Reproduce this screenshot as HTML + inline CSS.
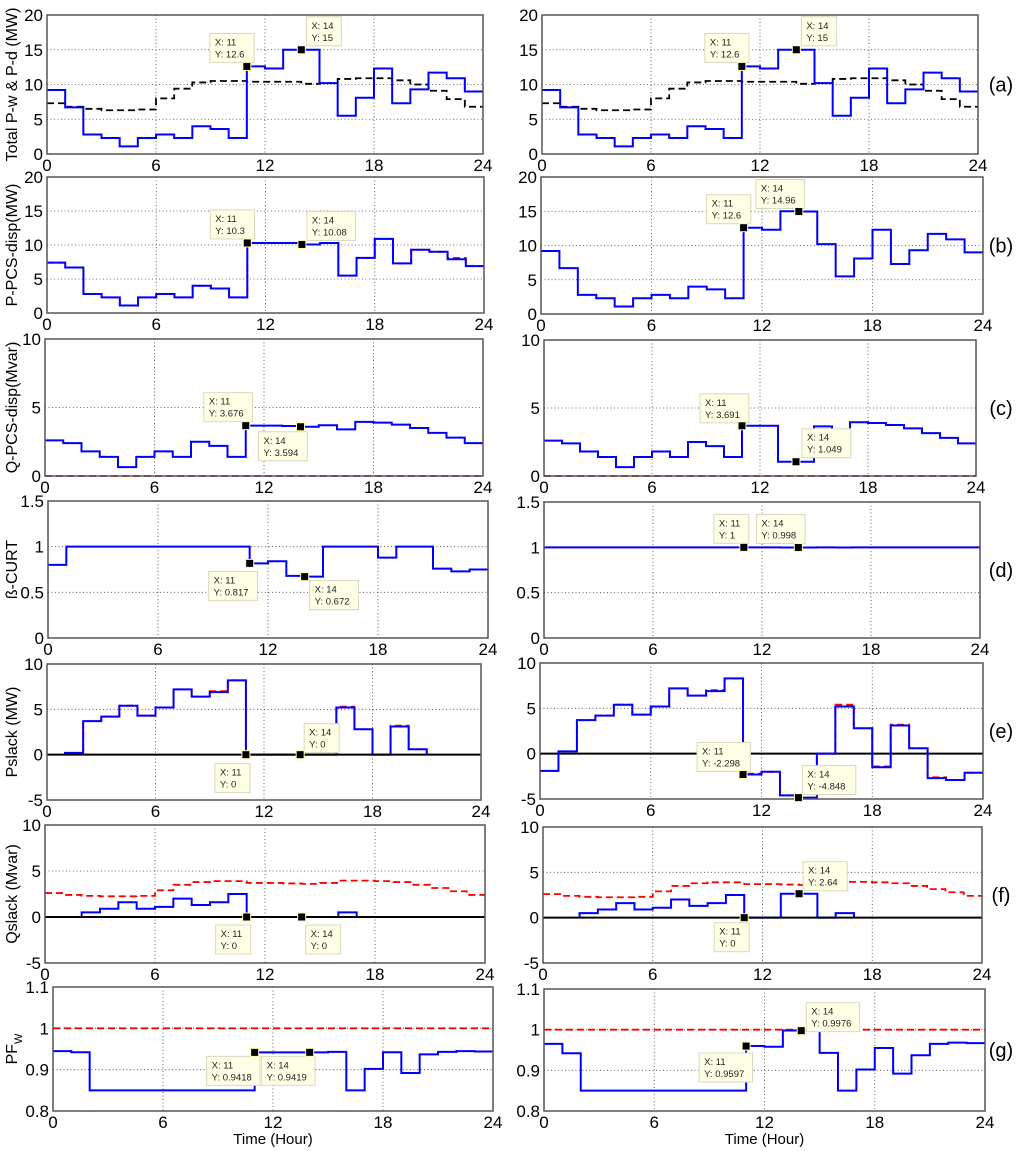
<!DOCTYPE html>
<html><head><meta charset="utf-8">
<style>
html,body{margin:0;padding:0;background:#fff;}
svg{display:block;font-family:"Liberation Sans",Arial,sans-serif;}
</style></head>
<body>
<svg id="fig" width="1024" height="1151" viewBox="0 0 1024 1151" xmlns="http://www.w3.org/2000/svg"></svg>
<script>
// ---------- data ----------
const hours = [0,6,12,18,24];
const pwTotal = [9.2,6.7,2.8,2.3,1.1,2.3,2.8,2.3,4.0,3.6,2.3,12.6,12.3,15,15,10.2,5.5,8.1,12.3,7.3,9.3,11.7,10.9,9.0];
const pdLoad  = [7.3,6.8,6.5,6.3,6.3,6.4,8.0,9.4,10.3,10.5,10.5,10.4,10.4,10.4,10.1,10.2,10.8,10.9,10.9,10.6,10.0,9.1,7.9,6.8];
const pPcsLeft  = [7.4,6.7,2.8,2.3,1.1,2.3,2.8,2.3,4.0,3.6,2.3,10.3,10.3,10.3,10.08,10.3,5.5,8.1,10.9,7.3,9.3,9.0,7.9,6.9];
const pPcsLeftRef = [7.4,6.7,2.8,2.3,1.1,2.3,2.8,2.3,4.0,3.6,2.3,10.3,10.3,10.3,10.08,10.3,5.5,8.1,10.9,7.3,9.3,9.0,8.1,6.9];
const pPcsRight = [9.2,6.7,2.8,2.3,1.1,2.3,2.8,2.3,4.0,3.6,2.3,12.6,12.3,15,14.96,10.2,5.5,8.1,12.3,7.3,9.3,11.7,10.9,9.0];
const qPcsLeft  = [2.6,2.4,1.8,1.4,0.65,1.4,1.8,1.4,2.5,2.2,1.4,3.676,3.676,3.65,3.594,3.7,3.4,3.95,3.9,3.75,3.5,3.15,2.8,2.4];
const qPcsRight = [2.6,2.4,1.8,1.4,0.65,1.4,1.8,1.4,2.5,2.2,1.4,3.691,3.691,1.05,1.049,3.65,3.4,3.95,3.9,3.75,3.5,3.15,2.8,2.4];
const zeroSeries = [0,0,0,0,0,0,0,0,0,0,0,0,0,0,0,0,0,0,0,0,0,0,0,0];
const betaLeft  = [0.8,1,1,1,1,1,1,1,1,1,1,0.817,0.84,0.68,0.672,1,1,1,0.88,1,1,0.76,0.73,0.75];
const betaRight = [1,1,1,1,1,1,1,1,1,1,1,1,1,0.998,0.998,1,0.998,1,1,1,1,1,1,1];
const pSlackLeft  = [0,0.2,3.7,4.2,5.4,4.3,5.2,7.2,6.4,6.9,8.2,0,0,0,0,0,5.2,2.8,0,3.1,0.6,0,0,0];
const pSlackLeftRef = [0,0.2,3.7,4.2,5.4,4.3,5.2,7.2,6.4,7.0,8.2,0,0,0,0,0,5.3,2.8,0,3.2,0.6,0,0,0];
const pSlackRight = [-1.9,0.25,3.7,4.2,5.4,4.3,5.2,7.2,6.4,6.9,8.3,-2.298,-2.0,-4.6,-4.848,0,5.2,2.8,-1.5,3.1,0.6,-2.7,-2.9,-2.1];
const pSlackRightRef = [-1.9,0.25,3.7,4.2,5.4,4.3,5.2,7.2,6.4,7.0,8.3,-2.2,-2.0,-4.6,-4.848,0,5.4,2.8,-1.4,3.2,0.6,-2.6,-2.9,-2.1];
const qSlackLeft  = [0,0,0.5,0.9,1.6,0.9,1.1,2.0,1.3,1.6,2.5,0,0,0,0,0,0.5,0,0,0,0,0,0,0];
const qSlackRight = [0,0,0.5,0.9,1.6,0.9,1.1,2.0,1.3,1.6,2.5,0,0,2.64,2.64,0,0.5,0,0,0,0,0,0,0];
const qLimit = [2.6,2.4,2.3,2.25,2.25,2.3,2.9,3.5,3.8,3.9,3.9,3.7,3.7,3.65,3.6,3.7,3.95,3.95,3.9,3.8,3.5,3.15,2.8,2.4];
const pfLeft  = [0.945,0.942,0.85,0.85,0.85,0.85,0.85,0.85,0.85,0.85,0.85,0.9418,0.9418,0.9418,0.9419,0.943,0.85,0.902,0.942,0.892,0.937,0.943,0.945,0.944];
const pfRight = [0.965,0.942,0.85,0.85,0.85,0.85,0.85,0.85,0.85,0.85,0.85,0.9597,0.958,0.998,0.9976,0.943,0.85,0.902,0.955,0.892,0.937,0.965,0.968,0.967];
const pfLimit = [1,1,1,1,1,1,1,1,1,1,1,1,1,1,1,1,1,1,1,1,1,1,1,1];
const tipsX = [11,14];
const ticksA = ["0","5","10","15","20"];
const ticksC = ["0","5","10"];
const ticksD = ["0","0.5","1","1.5"];
const ticksE = ["-5","0","5","10"];
const ticksG = ["0.8","0.9","1","1.1"];
const panelLetters = ["(a)","(b)","(c)","(d)","(e)","(f)","(g)"];

// ---------- layout ----------
const NS = "http://www.w3.org/2000/svg";
const fig = document.getElementById('fig');
function el(tag, attrs, parent){
  const e = document.createElementNS(NS, tag);
  for (const k in attrs) e.setAttribute(k, attrs[k]);
  (parent||fig).appendChild(e);
  return e;
}
function stairs(xs, ys, vals, from, to, closeZero){
  let d = '';
  for (let i=from;i<to;i++){
    const yy = ys(vals[i]);
    if (i===from) d += 'M'+xs(i)+' '+(closeZero?ys(0):yy)+(closeZero?' V'+yy:'');
    else d += ' V'+yy;
    d += ' H'+xs(i+1);
  }
  if (closeZero) d += ' V'+ys(0);
  return d;
}

const panels = [
 {id:'a-left', box:[47,15,483,154], ymin:0,ymax:20, ticks:ticksA, ylabel:'Total P-w & P-d (MW)'},
 {id:'b-left', box:[47,177,484,313], ymin:0,ymax:20, ticks:ticksA, ylabel:'P-PCS-disp(MW)'},
 {id:'c-left', box:[45,339,483,476], ymin:0,ymax:10, ticks:ticksC, ylabel:'Q-PCS-disp(Mvar)'},
 {id:'d-left', box:[48,501,488,638], ymin:0,ymax:1.5, ticks:ticksD, ylabel:'ß-CURT'},
 {id:'e-left', box:[47,664,481,800], ymin:-5,ymax:10, ticks:ticksE, ylabel:'Pslack (MW)'},
 {id:'f-left', box:[45,825,485,963], ymin:-5,ymax:10, ticks:ticksE, ylabel:'Qslack (Mvar)'},
 {id:'g-left', box:[53,987,493,1111], ymin:0.8,ymax:1.1, ticks:ticksG, ylabel:'PF', xlabel:true},
 {id:'a-right', box:[542,15,978,154], ymin:0,ymax:20, ticks:ticksA, letter:0},
 {id:'b-right', box:[541,177,983,314], ymin:0,ymax:20, ticks:ticksA, letter:1},
 {id:'c-right', box:[544,340,976,476], ymin:0,ymax:10, ticks:ticksC, letter:2},
 {id:'d-right', box:[544,502,980,638], ymin:0,ymax:1.5, ticks:ticksD, letter:3},
 {id:'e-right', box:[540,663,983,799], ymin:-5,ymax:10, ticks:ticksE, letter:4},
 {id:'f-right', box:[543,827,982,963], ymin:-5,ymax:10, ticks:ticksE, letter:5},
 {id:'g-right', box:[544,989,985,1111], ymin:0.8,ymax:1.1, ticks:ticksG, letter:6, xlabel:true},
];

const seriesMap = {
 'a-left':[[pdLoad,'#000',true,0,24,false],[pwTotal,'#0000ff',false,0,24,false]],
 'a-right':[[pdLoad,'#000',true,0,24,false],[pwTotal,'#0000ff',false,0,24,false]],
 'b-left':[[pPcsLeftRef,'#ff0000',true,0,24,false],[pPcsLeft,'#0000ff',false,0,24,false]],
 'b-right':[[pPcsRight,'#0000ff',false,0,24,false]],
 'c-left':[[qPcsLeft,'#0000ff',false,0,24,false],[zeroSeries,'#cc0000',true,0,24,false]],
 'c-right':[[qPcsRight,'#0000ff',false,0,24,false],[zeroSeries,'#cc0000',true,0,24,false]],
 'd-left':[[betaLeft,'#0000ff',false,0,24,false]],
 'd-right':[[betaRight,'#0000ff',false,0,24,false]],
 'e-left':[[pSlackLeftRef,'#ff0000',true,1,21,true],[pSlackLeft,'#0000ff',false,1,21,true],[zeroSeries,'#000',false,0,24,false]],
 'e-right':[[zeroSeries,'#000',false,0,24,false],[pSlackRightRef,'#ff0000',true,0,24,false],[pSlackRight,'#0000ff',false,0,24,false]],
 'f-left':[[qLimit,'#ff0000',true,0,24,false],[qSlackLeft,'#0000ff',false,2,17,true],[zeroSeries,'#000',false,0,24,false]],
 'f-right':[[qLimit,'#ff0000',true,0,24,false],[qSlackRight,'#0000ff',false,2,17,true],[zeroSeries,'#000',false,0,24,false]],
 'g-left':[[pfLimit,'#ff0000',true,0,24,false],[pfLeft,'#0000ff',false,0,24,false]],
 'g-right':[[pfLimit,'#ff0000',true,0,24,false],[pfRight,'#0000ff',false,0,24,false]],
};
const tipSrc = {'a-left':pwTotal,'a-right':pwTotal,'b-left':pPcsLeft,'b-right':pPcsRight,'c-left':qPcsLeft,'c-right':qPcsRight,
 'd-left':betaLeft,'d-right':betaRight,'e-left':pSlackLeft,'e-right':pSlackRight,'f-left':qSlackLeft,'f-right':qSlackRight,'g-left':pfLeft,'g-right':pfRight};
const tipLabels = {'a-left':['12.6','15'],'a-right':['12.6','15'],'b-left':['10.3','10.08'],'b-right':['12.6','14.96'],
 'c-left':['3.676','3.594'],'c-right':['3.691','1.049'],'d-left':['0.817','0.672'],'d-right':['1','0.998'],
 'e-left':['0','0'],'e-right':['-2.298','-4.848'],'f-left':['0','0'],'f-right':['0','2.64'],'g-left':['0.9418','0.9419'],'g-right':['0.9597','0.9976']};
const tipOff = {'a-left':[[-37,-33],[5,-33]],'a-right':[[-37,-33],[5,-33]],'b-left':[[-37,-33],[5,-33]],'b-right':[[-37,-33],[-43,-32]],
 'c-left':[[-42,-33],[-42,5]],'c-right':[[-42,-32],[6,-33]],'d-left':[[-41,8],[5,4]],'d-right':[[-30,-33],[-42,-33]],
 'e-left':[[-31,9],[4,-31]],'e-right':[[-46,-32],[4,-32]],'f-left':[[-31,8],[4,8]],'f-right':[[-30,5],[4,-32]],
 'g-left':[[-48,4],[-48,4]],'g-right':[[-47,7],[5,-28]]};

panels.forEach(p=>{
  const [x0,y0,x1,y1] = p.box;
  const g = el('g',{});
  
  
  const xs = h => x0 + (x1-x0)*h/24;
  const ys = v => y1 - (y1-y0)*(v-p.ymin)/(p.ymax-p.ymin);
  hours.forEach((h,i)=>{
    if (i>0 && i<hours.length-1){
      const gl = el('line',{x1:xs(h),x2:xs(h),y1:y0,y2:y1,stroke:'#444','stroke-width':0.8,'stroke-dasharray':'1,2.5'},g);
      
      
    }
    const t = el('text',{x:xs(h),y:y1+17,'font-size':17,'text-anchor':'middle',fill:'#000'},g);
    t.textContent = String(h);
    
    
  });
  p.ticks.forEach((lab,i)=>{
    const v = parseFloat(lab);
    if (i>0 && i<p.ticks.length-1){
      const gl = el('line',{x1:x0,x2:x1,y1:ys(v),y2:ys(v),stroke:'#444','stroke-width':0.8,'stroke-dasharray':'1,2.5'},g);
      
      
    }
    const t = el('text',{x:x0-4,y:ys(v)+6,'font-size':17,'text-anchor':'end',fill:'#000'},g);
    t.textContent = lab;
    
    
  });
  (seriesMap[p.id]||[]).forEach(s=>{
    const [vals,color,dashed,from,to,cz] = s;
    const path = el('path',{d:stairs(xs,ys,vals,from,to,cz),fill:'none',stroke:color,'stroke-width':dashed?1.8:2,
      'stroke-dasharray':dashed?'7,4':'none'},g);
    
    
  });
  const fr = el('rect',{x:x0,y:y0,width:x1-x0,height:y1-y0,fill:'none',stroke:'#555','stroke-width':1.5},g);
  
  
  tipsX.forEach((hx,k)=>{
    const vy = tipSrc[p.id][hx];
    const mx = xs(hx), my = ys(vy);
    const [dx,dy] = tipOff[p.id][k];
    const yLab = 'Y: '+tipLabels[p.id][k];
    const w = 12 + Math.max(5,yLab.length)*4.6, h = 29;
    const tg = el('g',{},g);
    
    
    el('rect',{x:mx+dx,y:my+dy,width:w,height:h,fill:'#ffffe6',stroke:'#d8d8c0','stroke-width':1},tg);
    const t1 = el('text',{x:mx+dx+5,y:my+dy+12,'font-size':9.5,fill:'#222'},tg);
    t1.textContent = 'X: '+hx;
    const t2 = el('text',{x:mx+dx+5,y:my+dy+24,'font-size':9.5,fill:'#222'},tg);
    t2.textContent = yLab;
    el('rect',{x:mx-4,y:my-4,width:8,height:8,fill:'#000',stroke:'#ffffb0','stroke-width':1},tg);
  });
  if (p.ylabel){
    const cy = (y0+y1)/2;
    const t = el('text',{x:17,y:cy,'font-size':16,'text-anchor':'middle',transform:'rotate(-90 17 '+cy+')',fill:'#000'},g);
    
    
    if (p.ylabel==='PF'){
      t.textContent = 'PF';
      const sub = el('tspan',{'font-size':11,dy:5},t);
      sub.textContent = 'W';
    } else t.textContent = p.ylabel;
  }
  if (p.letter!==undefined){
    const t = el('text',{x:1001,y:(y0+y1)/2+7,'font-size':20,'text-anchor':'middle',fill:'#000'},g);
    t.textContent = panelLetters[p.letter];
    
    
  }
  if (p.xlabel){
    const t = el('text',{x:(x0+x1)/2,y:y1+33,'font-size':15,'text-anchor':'middle',fill:'#000'},g);
    t.textContent = 'Time (Hour)';
    
    
  }
});
</script>
</body></html>
